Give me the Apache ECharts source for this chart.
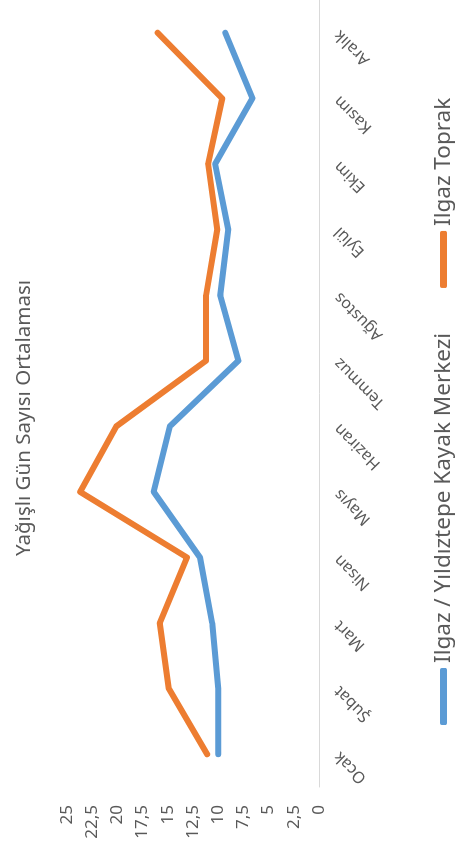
<!DOCTYPE html>
<html>
<head>
<meta charset="utf-8">
<script src="https://cdn.jsdelivr.net/npm/echarts@6/dist/echarts.min.js"></script>
<style>
  html, body {margin: 0; padding: 0; background: #fff; overflow: hidden;}
  #main {
    position: absolute; left: 0; top: 0;
    width: 859px; height: 456px;
    transform-origin: 0 0;
    transform: translate(0, 859px) rotate(-90deg);
  }
</style>
</head>
<body>
<div id="main"></div>
<script>
const months = ['Ocak', 'Şubat', 'Mart', 'Nisan', 'Mayıs', 'Haziran', 'Temmuz', 'Ağustos', 'Eylül', 'Ekim', 'Kasım', 'Aralık'];
const yildiztepe = [10.0, 10.0, 10.6, 11.8, 16.4, 14.8, 8.0, 9.8, 9.0, 10.3, 6.6, 9.3];
const toprak = [11.1, 14.9, 15.8, 13.1, 23.7, 20.1, 11.2, 11.2, 10.1, 11.0, 9.6, 16.0];

const chartDom = document.getElementById('main');
const myChart = echarts.init(chartDom);
const font = 'Noto Sans';
const grey = '#595959';

const option = {
    animation: false,
    title: {
        text: 'Yağışlı Gün Sayısı Ortalaması',
        left: 436,
        textAlign: 'center',
        top: 9,
        textStyle: {fontFamily: font, fontSize: 20.5, fontWeight: 'normal', color: grey}
    },
    legend: {
        left: 129,
        top: 427,
        itemWidth: 57,
        itemHeight: 7,
        itemGap: 45,
        icon: 'roundRect',
        textStyle: {fontFamily: font, fontSize: 22.5, color: grey}
    },
    grid: {
        left: 72,
        right: 0,
        top: 67,
        bottom: 137
    },
    xAxis: {
        type: 'category',
        data: months,
        axisTick: {show: false},
        axisLine: {lineStyle: {color: '#d9d9d9', width: 1}},
        axisLabel: {rotate: 45, margin: 18, fontFamily: font, fontSize: 16, color: grey}
    },
    yAxis: {
        type: 'value',
        min: 0,
        max: 25,
        interval: 2.5,
        splitLine: {show: false},
        axisLine: {show: false},
        axisTick: {show: false},
        axisLabel: {
            margin: 18,
            fontFamily: font, fontSize: 17, color: grey,
            formatter: v => String(v).replace('.', ',')
        }
    },
    series: [
        {
            name: 'Ilgaz / Yıldıztepe Kayak Merkezi',
            type: 'line',
            data: yildiztepe,
            color: '#5B9BD5',
            showSymbol: false,
            lineStyle: {width: 6, cap: 'round', join: 'round'}
        },
        {
            name: 'Ilgaz Toprak',
            type: 'line',
            data: toprak,
            color: '#ED7D31',
            showSymbol: false,
            lineStyle: {width: 6, cap: 'round', join: 'round'}
        }
    ]
};

option && myChart.setOption(option);
</script>
</body>
</html>
